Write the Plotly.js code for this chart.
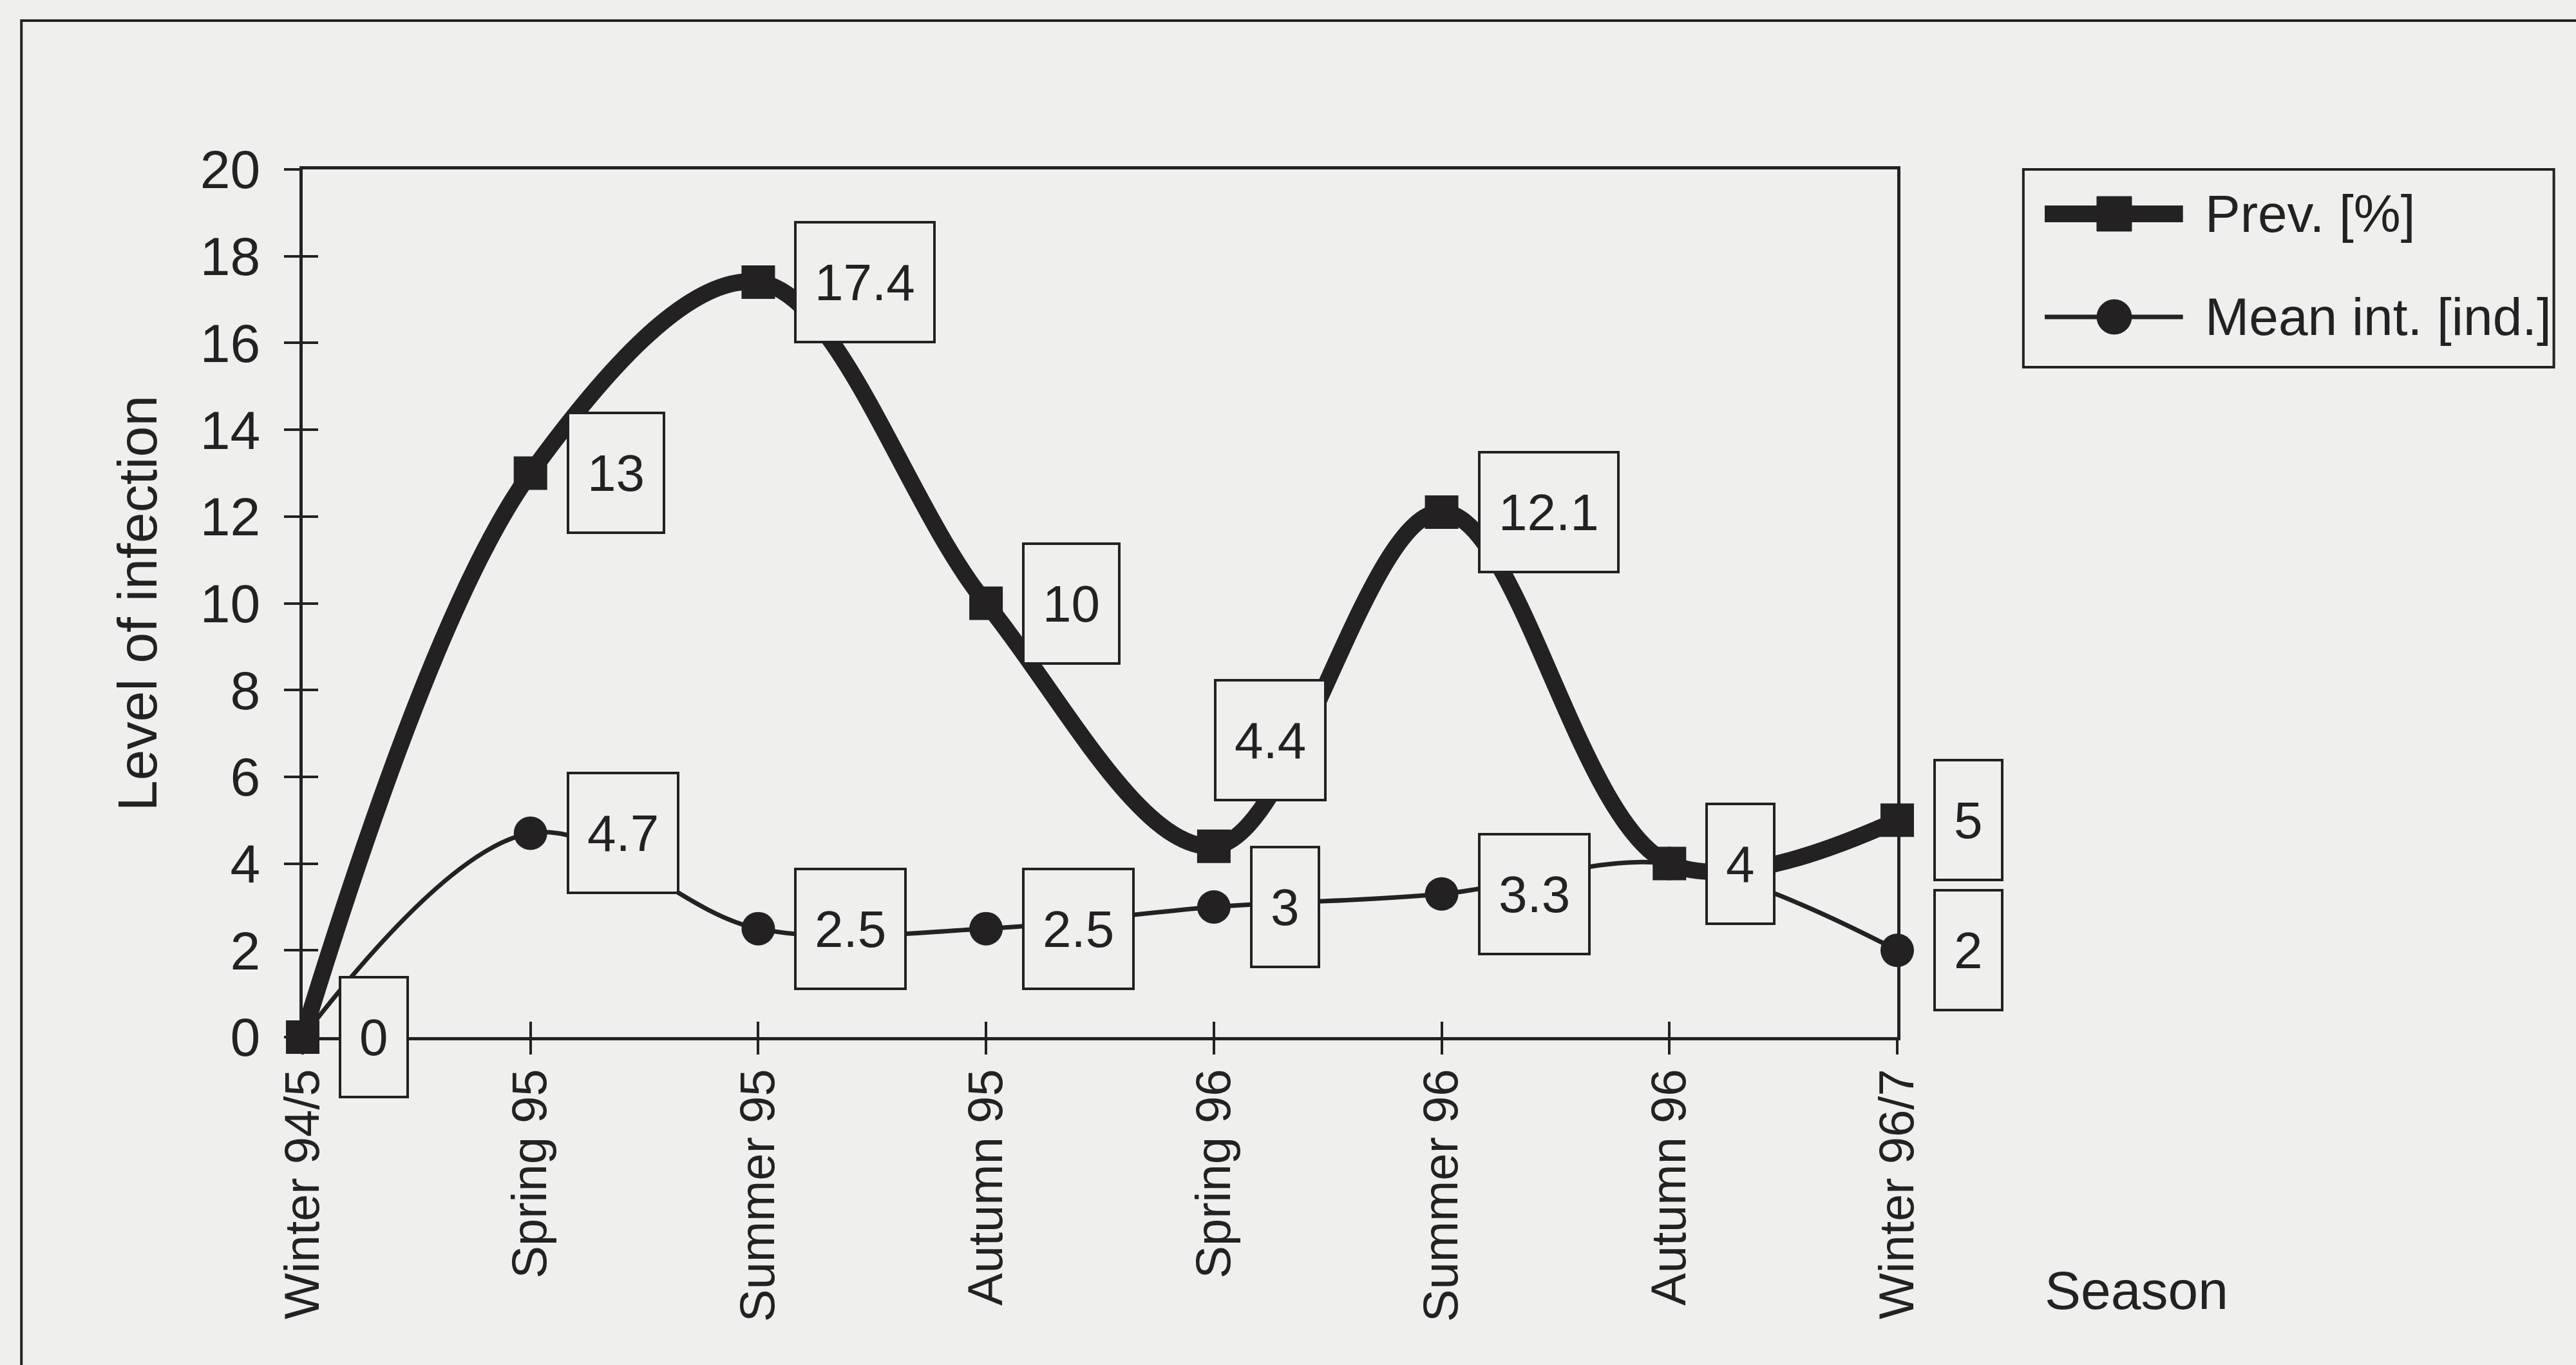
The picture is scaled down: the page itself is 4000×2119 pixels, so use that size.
<!DOCTYPE html>
<html>
<head>
<meta charset="utf-8">
<script src="https://cdn.plot.ly/plotly-3.0.1.min.js"></script>
<style>
  html, body { margin: 0; padding: 0; background: #efefed; }
  #chart { width: 4000px; height: 2119px; }
</style>
</head>
<body>
<div id="chart"></div>
<script>
// ---- data ----
const seasons = ['Winter 94/5', 'Spring 95', 'Summer 95', 'Autumn 95', 'Spring 96', 'Summer 96', 'Autumn 96', 'Winter 96/7'];
const prevalence = [0, 13, 17.4, 10, 4.4, 12.1, 4, 5];        // Prev. [%]
const meanIntensity = [0, 4.7, 2.5, 2.5, 3, 3.3, 4, 2];        // Mean int. [ind.]
const yTickVals = [0, 2, 4, 6, 8, 10, 12, 14, 16, 18, 20];
const seriesNames = ['Prev. [%]', 'Mean int. [ind.]'];

// ---- style ----
const INK = '#242122';
const BG = '#efefed';
const FONT = 'Liberation Sans, Arial, sans-serif';
const THICK = 26, THIN = 7, MSIZE = 52;

const traces = [
  {
    x: seasons, y: meanIntensity, name: seriesNames[1], type: 'scatter', mode: 'lines+markers',
    line: { color: INK, width: THIN, shape: 'spline', smoothing: 1 },
    marker: { symbol: 'circle', size: MSIZE, color: INK },
    cliponaxis: false, showlegend: false
  },
  {
    x: seasons, y: prevalence, name: seriesNames[0], type: 'scatter', mode: 'lines+markers',
    line: { color: INK, width: THICK, shape: 'spline', smoothing: 1 },
    marker: { symbol: 'square', size: MSIZE, color: INK },
    cliponaxis: false, showlegend: false
  },
  // empty helper traces so the overlay axes (inner half of the crossing ticks) are drawn
  { x: [], y: [], xaxis: 'x', yaxis: 'y2', showlegend: false, hoverinfo: 'skip', type: 'scatter' },
  { x: [], y: [], xaxis: 'x2', yaxis: 'y', showlegend: false, hoverinfo: 'skip', type: 'scatter' }
];

// data labels: boxed values to the right of each point
function labelFor(i, value, special) {
  const a = {
    x: seasons[i], y: value, xref: 'x', yref: 'y',
    text: String(value), showarrow: false,
    font: { family: FONT, size: 80, color: INK },
    bgcolor: BG, bordercolor: INK, borderwidth: 4, borderpad: 28,
    height: 126, valign: 'middle',
    xanchor: 'left', yanchor: 'middle', xshift: 56
  };
  if (special) { a.xshift = 0; a.yanchor = 'bottom'; a.yshift = 70; }
  return a;
}
const annotations = [];
meanIntensity.forEach((v, i) => annotations.push(labelFor(i, v, false)));
prevalence.forEach((v, i) => annotations.push(labelFor(i, v, i === 4)));
annotations.push({
  text: 'Season', xref: 'paper', yref: 'paper', x: 1.15, y: -0.292,
  xanchor: 'center', yanchor: 'middle', showarrow: false,
  font: { family: FONT, size: 84, color: INK }
});

// ---- legend (drawn as layout decoration in paper coordinates) ----
const legendRows = [
  { name: seriesNames[0], y: 0.9488, width: THICK, symbol: 'rect' },
  { name: seriesNames[1], y: 0.8300, width: THIN, symbol: 'circle' }
];
const shapes = [
  // outer frame of the figure
  { type: 'rect', xref: 'paper', yref: 'paper', x0: -0.1764, y0: -0.6, x1: 1.6, y1: 1.1715,
    line: { color: INK, width: 4 }, fillcolor: 'rgba(0,0,0,0)', layer: 'below' },
  // legend box
  { type: 'rect', xref: 'paper', yref: 'paper', x0: 1.0791, y0: 0.7721, x1: 1.4118, y1: 1.0,
    line: { color: INK, width: 4 }, fillcolor: BG, layer: 'above' }
];
legendRows.forEach(r => {
  shapes.push({ type: 'line', xref: 'paper', yref: 'paper', x0: 1.0925, x1: 1.1792, y0: r.y, y1: r.y,
    line: { color: INK, width: r.width }, layer: 'above' });
  shapes.push({ type: r.symbol, xref: 'paper', yref: 'paper', x0: 1.1252, x1: 1.1470,
    y0: r.y - 0.0200, y1: r.y + 0.0200, line: { color: INK, width: 1 }, fillcolor: INK, layer: 'above' });
  annotations.push({ text: r.name, xref: 'paper', yref: 'paper', x: 1.1922, y: r.y,
    xanchor: 'left', yanchor: 'middle', showarrow: false,
    font: { family: FONT, size: 82, color: INK } });
});

const layout = {
  width: 4000, height: 2119,
  paper_bgcolor: BG, plot_bgcolor: BG,
  margin: { l: 470, r: 1054, t: 263, b: 509, pad: 0 },
  font: { family: FONT, color: INK },
  showlegend: false,
  xaxis: {
    type: 'category', range: [0, 7], showgrid: false, zeroline: false,
    showline: true, linecolor: INK, linewidth: 5, mirror: true,
    ticks: 'outside', ticklen: 22, tickwidth: 4, tickcolor: INK,
    tickangle: -90, tickfont: { family: FONT, size: 76, color: INK },
    ticklabelstandoff: -8
  },
  xaxis2: {
    overlaying: 'x', anchor: 'y', type: 'linear', range: [0, 7], dtick: 1, tick0: 0,
    showgrid: false, zeroline: false, showline: false, showticklabels: false,
    ticks: 'inside', ticklen: 24, tickwidth: 4, tickcolor: INK
  },
  yaxis: {
    range: [0, 20], tickvals: yTickVals, showgrid: false, zeroline: false,
    showline: true, linecolor: INK, linewidth: 5, mirror: true,
    ticks: 'outside', ticklen: 24, tickwidth: 4, tickcolor: INK,
    tickfont: { family: FONT, size: 84, color: INK },
    ticklabelstandoff: 20,
    title: { text: 'Level of infection', font: { family: FONT, size: 86, color: INK }, standoff: 40 }
  },
  yaxis2: {
    overlaying: 'y', anchor: 'x', side: 'left', range: [0, 20], tickvals: yTickVals,
    showgrid: false, zeroline: false, showline: false, showticklabels: false,
    ticks: 'inside', ticklen: 24, tickwidth: 4, tickcolor: INK
  },
  shapes: shapes,
  annotations: annotations
};

Plotly.newPlot('chart', traces, layout, { displayModeBar: false, staticPlot: true });
</script>
</body>
</html>
